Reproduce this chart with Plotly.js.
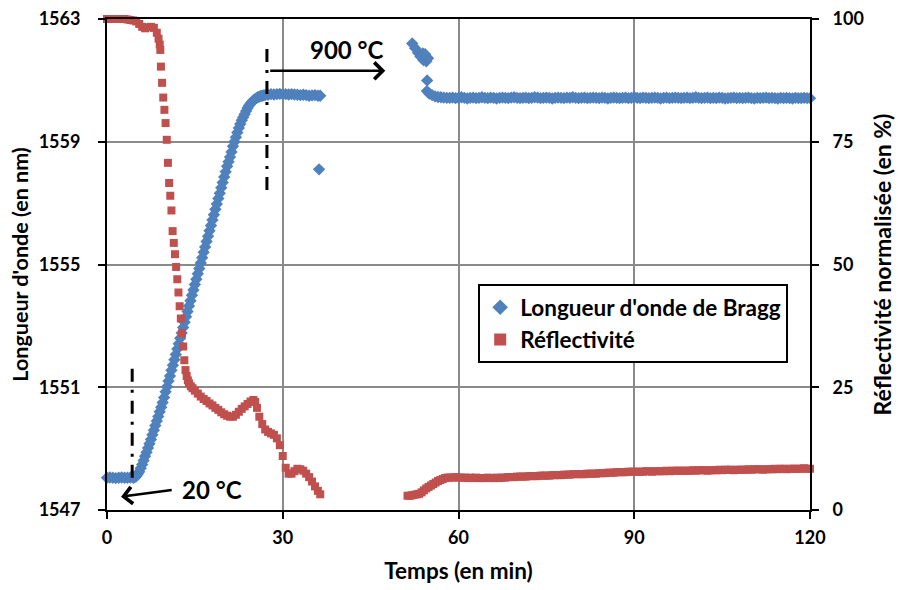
<!DOCTYPE html>
<html>
<head>
<meta charset="utf-8">
<script src="https://cdn.plot.ly/plotly-3.0.1.min.js"></script>
<style>html,body{margin:0;padding:0;background:#fff;}#chart{width:898px;height:590px;}</style>
</head>
<body>
<div id="chart"></div>
<script>
// ---- Data (time in minutes) ----
// Bragg wavelength (nm), first heating segment
const timeBraggA = [0,0.5,1,1.5,2,2.5,3,3.5,4,4.5,
  4.75,5,5.25,5.5,5.75,6,6.25,6.5,6.75,7,7.25,7.5,7.75,8,8.25,8.5,8.75,9,9.25,9.5,9.75,10,
  10.25,10.5,10.75,11,11.25,11.5,11.75,12,12.25,12.5,12.75,13,13.25,13.5,13.75,14,14.25,14.5,14.75,15,
  15.25,15.5,15.75,16,16.25,16.5,16.75,17,17.25,17.5,17.75,18,18.25,18.5,18.75,19,19.25,19.5,19.75,20,
  20.25,20.5,20.75,21,21.25,21.5,21.75,22,22.25,22.5,22.75,23,23.25,23.5,23.75,24,24.25,24.5,24.75,25,
  25.25,25.5,25.75,26,26.25,26.5,26.75,27,
  27.5,28,28.5,29,29.5,30,30.5,31,31.5,32,32.5,33,33.5,34,34.5,35,35.5,36,36.4,36.2];
const braggA = [1548.05,1548.06,1548.05,1548.04,1548.05,1548.06,1548.05,1548.05,1548.06,1548.05,
  1548.07,1548.10,1548.17,1548.25,1548.36,1548.48,1548.61,1548.75,1548.88,1549.02,1549.16,1549.30,1549.45,1549.60,1549.75,1549.90,1550.05,1550.20,1550.35,1550.50,1550.67,1550.85,
  1551.02,1551.20,1551.37,1551.55,1551.72,1551.90,1552.07,1552.25,1552.42,1552.60,1552.77,1552.95,1553.12,1553.30,1553.47,1553.65,1553.82,1554.00,1554.17,1554.35,
  1554.52,1554.70,1554.87,1555.05,1555.22,1555.40,1555.57,1555.75,1555.92,1556.10,1556.27,1556.45,1556.62,1556.80,1556.97,1557.15,1557.32,1557.50,1557.67,1557.85,
  1558.02,1558.20,1558.35,1558.50,1558.67,1558.85,1559.00,1559.15,1559.30,1559.45,1559.58,1559.70,1559.80,1559.90,1560.00,1560.10,1560.18,1560.25,1560.30,1560.35,
  1560.39,1560.42,1560.45,1560.47,1560.49,1560.50,1560.51,1560.52,
  1560.53,1560.55,1560.54,1560.55,1560.56,1560.55,1560.55,1560.54,1560.55,1560.54,1560.53,1560.52,1560.53,1560.52,1560.50,1560.51,1560.52,1560.50,1560.50,1558.10];
// Bragg wavelength, second segment start
const timeBraggB = [52.1,52.6,53.1,53.5,54.0,54.5,54.8,54.3,53.9,54.65,54.6,55,55.5,56,56.5,57,57.5,58];
const braggB = [1562.20,1562.05,1561.90,1561.78,1561.66,1561.62,1561.72,1561.85,1561.88,1561.00,1560.65,1560.57,1560.52,1560.48,1560.46,1560.45,1560.44,1560.43];

// Reflectivity (%), first segment
const timeReflA = [0,0.5,1,1.5,2,2.5,3,3.5,4,4.5,5,5.5,6,6.5,7,7.5,8,8.5,8.8,9.0,
  9.1,9.2,9.4,9.6,9.8,10.0,10.2,10.4,10.6,10.8,11.0,11.2,11.4,11.6,11.8,12.0,12.2,12.4,12.6,12.8,13.0,13.2,13.4,13.6,13.8,14.0,14.3,14.6,
  15,15.5,16,16.5,17,17.5,18,18.5,19,19.5,20,20.5,21,21.5,22,22.5,23,23.5,24,24.5,25,25.3,25.6,26,26.5,27,27.5,28,28.5,29,29.5,30,30.5,
  31,31.5,32,32.5,33,33.5,34,34.5,35,35.5,36,36.4];
const reflA = [100,100,100,100,100,100,100,99.9,99.8,99.7,99.5,99.0,98.4,98.1,98.3,98.4,98.2,97.2,96.0,94.8,
  93.7,90.3,87.0,84.0,81.5,78.8,75.4,70.7,66.6,64.0,61.0,56.8,54.4,52.1,49.5,47.0,44.3,41.5,39.0,36.0,33.3,30.5,28.5,27.3,26.4,25.8,25.2,24.8,
  24.3,23.7,23.1,22.6,22.2,21.7,21.3,20.8,20.4,19.9,19.5,19.2,19.0,19.0,19.4,20.0,20.6,21.1,21.6,22.1,22.4,22.0,20.8,19.0,17.5,16.4,15.9,15.6,15.3,14.6,13.2,11.0,8.6,
  7.4,7.4,7.9,8.4,8.3,8.0,7.4,6.7,5.8,4.8,3.9,3.2];
// Reflectivity, second segment start
const timeReflB = [51.3,51.7,52.1,52.5,52.9,53.3,53.7,54.1,54.5,54.9,55.3,55.7,56.1,56.5,56.9,57.3,57.7,58.1];
const reflB = [2.9,2.9,3.0,3.1,3.2,3.3,3.6,4.0,4.4,4.7,5.0,5.3,5.6,5.9,6.1,6.3,6.5,6.6];

// Both series, long 900 °C plateau
const timeLate = [58.5,59,59.5,60,60.5,61,61.5,62,62.5,63,
  63.5,64,64.5,65,65.5,66,66.5,67,67.5,68,
  68.5,69,69.5,70,70.5,71,71.5,72,72.5,73,
  73.5,74,74.5,75,75.5,76,76.5,77,77.5,78,
  78.5,79,79.5,80,80.5,81,81.5,82,82.5,83,
  83.5,84,84.5,85,85.5,86,86.5,87,87.5,88,
  88.5,89,89.5,90,90.5,91,91.5,92,92.5,93,
  93.5,94,94.5,95,95.5,96,96.5,97,97.5,98,
  98.5,99,99.5,100,100.5,101,101.5,102,102.5,103,
  103.5,104,104.5,105,105.5,106,106.5,107,107.5,108,
  108.5,109,109.5,110,110.5,111,111.5,112,112.5,113,
  113.5,114,114.5,115,115.5,116,116.5,117,117.5,118,
  118.5,119,119.5,120];
const braggLate = [1560.43,1560.44,1560.42,1560.43,1560.45,1560.43,1560.41,1560.43,1560.44,1560.42,
  1560.43,1560.45,1560.43,1560.42,1560.44,1560.43,1560.41,1560.43,1560.44,1560.43,
  1560.42,1560.44,1560.45,1560.43,1560.42,1560.43,1560.44,1560.42,1560.43,1560.45,
  1560.44,1560.42,1560.43,1560.44,1560.43,1560.41,1560.43,1560.44,1560.43,1560.42,
  1560.44,1560.43,1560.45,1560.43,1560.42,1560.43,1560.44,1560.42,1560.43,1560.44,
  1560.43,1560.42,1560.44,1560.43,1560.41,1560.43,1560.44,1560.43,1560.42,1560.43,
  1560.44,1560.42,1560.43,1560.45,1560.43,1560.42,1560.44,1560.43,1560.42,1560.43,
  1560.44,1560.43,1560.41,1560.43,1560.44,1560.42,1560.43,1560.44,1560.43,1560.42,
  1560.43,1560.44,1560.42,1560.43,1560.45,1560.43,1560.42,1560.43,1560.44,1560.42,
  1560.43,1560.42,1560.44,1560.43,1560.41,1560.42,1560.43,1560.44,1560.42,1560.43,
  1560.42,1560.43,1560.44,1560.42,1560.41,1560.43,1560.42,1560.43,1560.44,1560.42,
  1560.43,1560.42,1560.41,1560.43,1560.42,1560.43,1560.42,1560.41,1560.43,1560.42,
  1560.42,1560.43,1560.42,1560.42];
const reflLate = [6.6,6.6,6.7,6.6,6.6,6.6,6.5,6.6,6.5,6.6,
  6.5,6.5,6.5,6.6,6.5,6.5,6.6,6.5,6.6,6.6,
  6.7,6.7,6.7,6.8,6.8,6.8,6.8,6.9,6.9,6.9,
  6.9,7.0,7.0,7.0,7.0,7.1,7.1,7.1,7.1,7.2,
  7.2,7.2,7.3,7.3,7.3,7.3,7.3,7.4,7.4,7.4,
  7.4,7.5,7.5,7.5,7.6,7.6,7.6,7.7,7.7,7.7,
  7.7,7.8,7.8,7.8,7.8,7.8,7.8,7.9,7.9,7.8,
  7.9,7.9,7.9,7.9,8.0,7.9,8.0,8.0,8.0,8.0,
  8.0,8.0,8.0,8.1,8.0,8.1,8.1,8.1,8.0,8.1,
  8.1,8.1,8.2,8.1,8.2,8.2,8.2,8.1,8.2,8.2,
  8.2,8.2,8.3,8.2,8.3,8.3,8.3,8.2,8.3,8.3,
  8.3,8.4,8.3,8.4,8.4,8.3,8.4,8.4,8.4,8.4,
  8.4,8.5,8.4,8.4];

// Axis ticks and labels
const xTicks = [0,30,60,90,120];
const yTicks = [1547,1551,1555,1559,1563];
const y2Ticks = [0,25,50,75,100];
const seriesNames = ["Longueur d'onde de Bragg", "Réflectivité"];
const xTitle = "Temps (en min)";
const yTitle = "Longueur d'onde (en nm)";
const y2Title = "Réflectivité normalisée (en %)";
const labelHot = "900 °C";
const labelCold = "20 °C";
const markHotT = 27.3, markColdT = 4.3;

const BLUE = '#4F81BD', RED = '#C0504D';
const FONT = 'Lato, "Open Sans", sans-serif';
const f = (s) => ({family: FONT, size: s, color: '#000', weight: 700});

const traces = [
  {x: timeBraggA.concat(timeBraggB, timeLate), y: braggA.concat(braggB, braggLate),
   type: 'scatter', mode: 'markers', name: seriesNames[0], cliponaxis: false,
   marker: {symbol: 'diamond', size: 9.5, color: BLUE, line: {width: 0}}, xaxis: 'x', yaxis: 'y'},
  {x: timeReflA.concat(timeReflB, timeLate), y: reflA.concat(reflB, reflLate),
   type: 'scatter', mode: 'markers', name: seriesNames[1], cliponaxis: false,
   marker: {symbol: 'square', size: 8, color: RED, line: {width: 0}}, xaxis: 'x', yaxis: 'y2'}
];

const axisCommon = {
  showline: true, linecolor: '#000', linewidth: 2,
  ticks: 'outside', ticklen: 7, tickwidth: 2, tickcolor: '#000',
  zeroline: false, tickfont: f(18)
};

const layout = {
  width: 898, height: 590,
  margin: {l: 107, r: 88, t: 19, b: 80},
  paper_bgcolor: '#fff', plot_bgcolor: '#fff',
  showlegend: true,
  legend: {x: 0.528, y: 0.46, xanchor: 'left', yanchor: 'top',
    bgcolor: '#fff', bordercolor: '#000', borderwidth: 2, font: f(22.5),
    itemsizing: 'constant'},
  xaxis: Object.assign({}, axisCommon, {
    range: [0, 120], tickvals: xTicks, ticktext: xTicks.map(String),
    showgrid: true, gridcolor: '#8a8a8a', gridwidth: 2, mirror: true,
    ticklabelstandoff: 3,
    title: {text: xTitle, font: f(22.5), standoff: 17}
  }),
  yaxis: Object.assign({}, axisCommon, {
    range: [1547, 1563], tickvals: yTicks, ticktext: yTicks.map(String),
    showgrid: true, gridcolor: '#8a8a8a', gridwidth: 2,
    ticklabelstandoff: 14,
    title: {text: yTitle, font: f(21.5), standoff: 4}
  }),
  yaxis2: Object.assign({}, axisCommon, {
    range: [0, 100], tickvals: y2Ticks, ticktext: y2Ticks.map(String),
    overlaying: 'y', side: 'right', showgrid: false,
    ticklabelstandoff: 10,
    title: {text: y2Title, font: f(23), standoff: 12}
  }),
  shapes: [
    {type: 'line', xref: 'x', yref: 'y', x0: markColdT, x1: markColdT, y0: 1548.05, y1: 1551.73,
     line: {color: '#000', width: 3, dash: '13px,8px,3px,8px'}},
    {type: 'line', xref: 'x', yref: 'y', x0: markHotT, x1: markHotT, y0: 1557.43, y1: 1562.26,
     line: {color: '#000', width: 3, dash: '13px,8px,3px,8px'}}
  ],
  annotations: [
    {xref: 'x', yref: 'y', x: 47.5, y: 1561.31, axref: 'x', ayref: 'y', ax: 27.6, ay: 1561.31,
     text: '', showarrow: true, arrowhead: 4, arrowsize: 1.3, arrowwidth: 2.5, arrowcolor: '#000'},
    {xref: 'x', yref: 'y', x: 40.9, y: 1561.99, text: labelHot, showarrow: false, font: f(24)},
    {xref: 'x', yref: 'y', x: 2.4, y: 1547.43, axref: 'x', ayref: 'y', ax: 11.3, ay: 1547.66,
     text: '', showarrow: true, arrowhead: 4, arrowsize: 1.3, arrowwidth: 2.5, arrowcolor: '#000'},
    {xref: 'x', yref: 'y', x: 17.95, y: 1547.66, text: labelCold, showarrow: false, font: f(24)}
  ]
};

Plotly.newPlot('chart', traces, layout, {displayModeBar: false, staticPlot: true});
</script>
</body>
</html>
